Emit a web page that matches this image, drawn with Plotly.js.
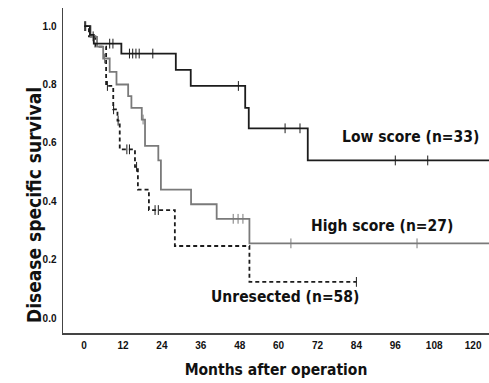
<!DOCTYPE html>
<html>
<head>
<meta charset="utf-8">
<script src="https://cdn.plot.ly/plotly-3.0.1.min.js"></script>
<style>html,body{margin:0;padding:0;background:#fff;}#chart{width:489px;height:383px;}</style>
</head>
<body>
<div id="chart"></div>
<script>
// Low score (n=33)
const lowT = [0, 1.8, 3, 11.5, 28.3, 32.9, 49.7, 50.8, 69, 125];
const lowS = [1, 0.97, 0.94, 0.906, 0.85, 0.795, 0.72, 0.65, 0.54, 0.54];
const lowCensT = [0.5, 7.9, 8.9, 14, 15, 16, 17, 21.2, 47.6, 62, 66.6, 96, 106];
const lowCensS = [1, 0.94, 0.94, 0.906, 0.906, 0.906, 0.906, 0.906, 0.795, 0.65, 0.65, 0.54, 0.54];

// High score (n=27)
const highT = [0, 2, 4, 5.9, 7.9, 10, 13.6, 14.6, 17.8, 18.8, 22.9, 23.7, 33, 40.9, 51, 125];
const highS = [1, 0.963, 0.93, 0.889, 0.843, 0.80, 0.76, 0.72, 0.68, 0.59, 0.54, 0.44, 0.39, 0.34, 0.256, 0.256];
const highCensT = [6.3, 18.2, 46, 47.5, 49, 63.8, 102.7];
const highCensS = [0.889, 0.68, 0.34, 0.34, 0.34, 0.256, 0.256];

// Unresected (n=58)
const unT = [0, 1.5, 3.5, 6.8, 9, 10.3, 11, 15.7, 16.6, 20, 28, 51, 84];
const unS = [1, 0.965, 0.93, 0.795, 0.715, 0.676, 0.578, 0.518, 0.44, 0.37, 0.247, 0.124, 0.124];
const unCensT = [0.2, 2.8, 7.2, 9.1, 10.5, 13.2, 14, 16.2, 21.9, 22.9, 84];
const unCensS = [1, 0.965, 0.795, 0.715, 0.676, 0.578, 0.578, 0.518, 0.37, 0.37, 0.124];

const xTicks = [0, 12, 24, 36, 48, 60, 72, 84, 96, 108, 120];
const yTicks = [0, 0.2, 0.4, 0.6, 0.8, 1.0];
const labels = ["Low score (n=33)", "High score (n=27)", "Unresected (n=58)"];
const yTitle = 'Disease specific survival';
const xTitle = 'Months after operation';

const BLACK = '#1c1c1c', GRAY = '#7a7a7a';
const FONT_T = '"DejaVu Sans Condensed", "Liberation Sans", Arial, sans-serif';

function step(x, y, color, dash, w) {
  return {x: x, y: y, type: 'scatter', mode: 'lines', line: {shape: 'hv', color: color, width: w, dash: dash}, hoverinfo: 'skip', showlegend: false};
}
function cens(x, y, color) {
  return {x: x, y: y, type: 'scatter', mode: 'markers', marker: {symbol: 'line-ns-open', size: 7, color: color, line: {color: color, width: 1}}, hoverinfo: 'skip', showlegend: false};
}

const data = [
  step(unT, unS, BLACK, '4px,3px', 1.8),
  cens(unCensT, unCensS, BLACK),
  step(highT, highS, GRAY, 'solid', 1.8),
  cens(highCensT, highCensS, GRAY),
  step(lowT, lowS, BLACK, 'solid', 1.8),
  cens(lowCensT, lowCensS, BLACK)
];

const annFont = {family: FONT_T, size: 15.5, color: '#111', weight: 'bold'};
const layout = {
  width: 489, height: 383,
  margin: {l: 63, r: 0, t: 8, b: 50},
  paper_bgcolor: '#fff', plot_bgcolor: '#fff',
  xaxis: {
    range: [-6.5, 124.9], tickvals: xTicks, ticktext: xTicks.map(String),
    showgrid: false, zeroline: false, ticks: '', showline: true, linecolor: '#444', linewidth: 1.5,
    tickfont: {family: 'Liberation Sans, Arial, sans-serif', size: 10, color: '#111', weight: 'bold'},
    ticklabelstandoff: 2,
    title: {text: xTitle, font: {family: FONT_T, size: 15.5, color: '#111', weight: 'bold'}, standoff: 14}
  },
  yaxis: {
    range: [-0.051, 1.062], tickvals: yTicks, ticktext: yTicks.map(v => v.toFixed(1)),
    showgrid: false, zeroline: false, ticks: '', showline: true, linecolor: '#444', linewidth: 1.5,
    tickfont: {family: 'Liberation Sans, Arial, sans-serif', size: 10, color: '#111', weight: 'bold'},
    ticklabelstandoff: 3
  },
  annotations: [
    {x: 100.8, y: 0.62, xref: 'x', yref: 'y', text: labels[0], showarrow: false, font: annFont},
    {x: 91.9, y: 0.315, xref: 'x', yref: 'y', text: labels[1], showarrow: false, font: annFont},
    {x: 62, y: 0.072, xref: 'x', yref: 'y', text: labels[2], showarrow: false, font: annFont},
    {x: -0.068, y: 0.394, xref: 'paper', yref: 'paper', xanchor: 'center', yanchor: 'middle',
     text: yTitle, textangle: -90, showarrow: false,
     font: {family: FONT_T, size: 19, color: '#111', weight: 'bold'}}
  ]
};
Plotly.newPlot('chart', data, layout, {staticPlot: true, displayModeBar: false});
</script>
</body>
</html>
